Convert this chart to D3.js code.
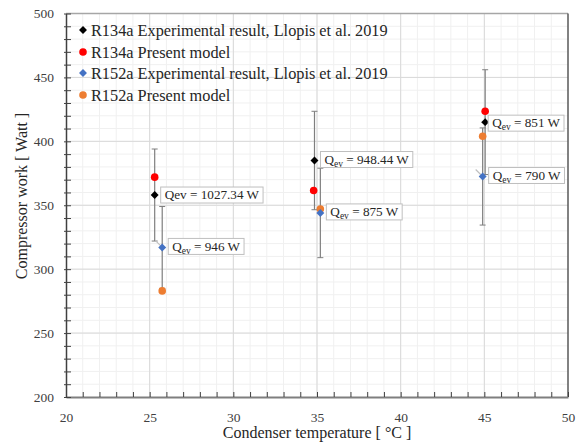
<!DOCTYPE html>
<html><head><meta charset="utf-8">
<script src="https://cdn.jsdelivr.net/npm/d3@7"></script>
<style>body{margin:0;background:#fff}svg{display:block}text{font-family:"Liberation Serif","Times New Roman",serif}</style>
</head><body><svg id="c" width="580" height="444"></svg>
<script>
const xTicks = [20,25,30,35,40,45,50];
const yTicks = [200,250,300,350,400,450,500];
const seriesNames = ["R134a Experimental result, Llopis et al. 2019","R134a Present model","R152a Experimental result, Llopis et al. 2019","R152a Present model"];
const seriesColors = ["#000000","#ff0000","#4472c4","#ed7d31"];
const seriesShapes = ["diamond","circle","diamond","circle"];
const exp134X = [25.3, 34.85, 45.05];
const exp134Y = [358, 385, 415];
const exp134Err = [36, 38.5, 41];
const mod134X = [25.3, 34.8, 45.05];
const mod134Y = [372, 361.5, 423.5];
const exp152X = [25.75, 35.2, 44.9];
const exp152Y = [317, 344, 372.5];
const exp152Err = [32, 35, 38];
const mod152X = [25.75, 35.2, 44.9];
const mod152Y = [283, 347, 404];
const labels134 = ["Qev = 1027.34 W", "Q|ev| = 948.44 W", "Q|ev| = 851 W"];
const labels152 = ["Q|ev| = 946 W", "Q|ev| = 875 W", "Q|ev| = 790 W"];

const svg = d3.select("#c");
const L=66, R=568, T=13.5, B=397;
const x = d3.scaleLinear().domain([20,50]).range([L,R]);
const y = d3.scaleLinear().domain([200,500]).range([B,T]);

// minor grid
const g = svg.append("g");
g.selectAll(".mx").data(d3.range(21,50)).join("line")
 .attr("x1",d=>x(d)).attr("x2",d=>x(d)).attr("y1",T).attr("y2",B).attr("stroke","#f0f0f0");
g.selectAll(".my").data(d3.range(210,500,10)).join("line")
 .attr("y1",d=>y(d)).attr("y2",d=>y(d)).attr("x1",L).attr("x2",R).attr("stroke","#f0f0f0");
// major grid
g.selectAll(".Mx").data(xTicks.slice(1,-1)).join("line")
 .attr("x1",d=>x(d)).attr("x2",d=>x(d)).attr("y1",T).attr("y2",B).attr("stroke","#d9d9d9");
g.selectAll(".My").data(yTicks.slice(1,-1)).join("line")
 .attr("y1",d=>y(d)).attr("y2",d=>y(d)).attr("x1",L).attr("x2",R).attr("stroke","#d9d9d9");

// border
svg.append("line").attr("x1",L).attr("x2",R).attr("y1",T).attr("y2",T).attr("stroke","#a6a6a6").attr("stroke-width",1.5);
svg.append("line").attr("x1",R).attr("x2",R).attr("y1",T).attr("y2",B).attr("stroke","#595959").attr("stroke-width",1.5);

// axes
const xAxis = d3.axisBottom(x).tickValues(d3.range(20,51,1)).tickSize(0).tickFormat("");
const gx = svg.append("g").attr("transform",`translate(0,${B})`).call(xAxis);
gx.select(".domain").attr("stroke","#7f7f7f").attr("stroke-width",2);
gx.selectAll(".tick line").attr("y1",-5).attr("y2",0).attr("stroke","#404040");
const xLab = d3.axisBottom(x).tickValues(xTicks).tickSize(0).tickPadding(0);
const gxl = svg.append("g").attr("transform",`translate(0,${B+15})`).call(xLab);
gxl.select(".domain").remove();
gxl.selectAll("text").attr("font-size",13.5).attr("fill","#404040").attr("font-family","Liberation Serif");

const yAxis = d3.axisLeft(y).tickValues(d3.range(200,501,10)).tickSize(0).tickFormat("");
const gy = svg.append("g").attr("transform",`translate(${L},0)`).call(yAxis);
gy.select(".domain").attr("stroke","#404040").attr("stroke-width",1.5);
gy.selectAll(".tick line").attr("x1",-2).attr("x2",5).attr("stroke","#404040");
const yLab = d3.axisLeft(y).tickValues(yTicks).tickSize(0).tickPadding(0);
const gyl = svg.append("g").attr("transform",`translate(${L-12},0)`).call(yLab);
gyl.select(".domain").remove();
gyl.selectAll("text").attr("font-size",13.5).attr("fill","#404040").attr("font-family","Liberation Serif");

// axis titles
svg.append("text").attr("x",(L+R)/2).attr("y",438).attr("text-anchor","middle")
 .attr("font-size",16).attr("fill","#262626").text("Condenser temperature [ °C ]");
svg.append("text").attr("transform","translate(27,196) rotate(-90)").attr("text-anchor","middle")
 .attr("font-size",16).attr("fill","#262626").text("Compressor work [ Watt ]");

// error bars
function errBars(xs, ys, es){
  const eg = svg.append("g");
  xs.forEach((xv,i)=>{
    eg.append("line").attr("x1",x(xv)).attr("x2",x(xv)).attr("y1",y(ys[i]-es[i])).attr("y2",y(ys[i]+es[i]))
      .attr("stroke","#7f7f7f").attr("stroke-width",1.2);
    [ys[i]-es[i], ys[i]+es[i]].forEach(v=>{
      eg.append("line").attr("x1",x(xv)-3).attr("x2",x(xv)+3).attr("y1",y(v)).attr("y2",y(v))
        .attr("stroke","#7f7f7f").attr("stroke-width",1);
    });
  });
}
errBars(exp134X, exp134Y, exp134Err);
errBars(exp152X, exp152Y, exp152Err);

// leader lines (from label callouts)
[[0],[2]].forEach(([k])=>{
  svg.append("line").attr("x1",x(exp152X[k])-7).attr("y1",y(exp152Y[k])-7)
    .attr("x2",x(exp152X[k])).attr("y2",y(exp152Y[k])).attr("stroke","#bfbfbf").attr("stroke-width",1.2);
});

const diamond = d3.symbol().type(d3.symbolDiamond2).size(40);
function marks(xs, ys, i){
  const mg = svg.append("g");
  xs.forEach((xv,k)=>{
    if(seriesShapes[i]==="diamond"){
      mg.append("path").attr("d",diamond()).attr("transform",`translate(${x(xv)},${y(ys[k])})`).attr("fill",seriesColors[i]);
    } else {
      mg.append("circle").attr("cx",x(xv)).attr("cy",y(ys[k])).attr("r",3.8).attr("fill",seriesColors[i]);
    }
  });
}
marks(mod152X, mod152Y, 3);
marks(exp152X, exp152Y, 2);
marks(mod134X, mod134Y, 1);
marks(exp134X, exp134Y, 0);

// data labels
function label(xv, yv, txt, dx, dy){
  const lg = svg.append("g").attr("transform",`translate(${x(xv)+dx},${y(yv)+dy})`);
  const t = lg.append("text").attr("x",4).attr("y",12.3).attr("font-size",13.2).attr("fill","#262626");
  const parts = txt.split("|");
  if(parts.length===3){
    t.append("tspan").text(parts[0]);
    t.append("tspan").attr("font-size",9.5).attr("dy",3).text(parts[1]);
    t.append("tspan").attr("dy",-3).text(parts[2]);
  } else t.text(txt);
  const w = t.node().getComputedTextLength();
  lg.insert("rect","text").attr("x",0).attr("y",0).attr("width",w+8).attr("height",16)
    .attr("fill","#fff").attr("stroke","#bfbfbf").attr("stroke-width",1);
}
label(exp134X[0], exp134Y[0], labels134[0], 6, -8);
label(exp134X[1], exp134Y[1], labels134[1], 6, -9);
label(exp134X[2], exp134Y[2], labels134[2], 3, -7);
label(exp152X[0], exp152Y[0], labels152[0], 6, -9);
label(exp152X[1], exp152Y[1], labels152[1], 6, -9);
label(exp152X[2], exp152Y[2], labels152[2], 6, -9);

// legend
const lgY = [30, 52, 73, 95];
seriesNames.forEach((n,i)=>{
  if(seriesShapes[i]==="diamond")
    svg.append("path").attr("d",diamond()).attr("transform",`translate(83,${lgY[i]})`).attr("fill",seriesColors[i]);
  else
    svg.append("circle").attr("cx",83).attr("cy",lgY[i]).attr("r",3.8).attr("fill",seriesColors[i]);
  svg.append("text").attr("x",91).attr("y",lgY[i]+5.5).attr("font-size",16.3).attr("fill","#262626").text(n);
});
</script></body></html>
